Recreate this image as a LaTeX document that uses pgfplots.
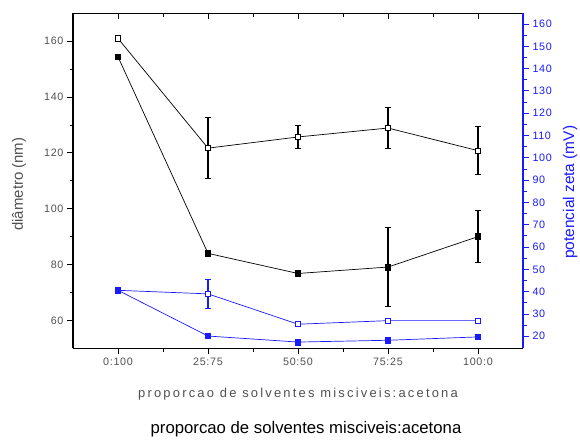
\documentclass[border=0pt]{standalone}
\usepackage{fontspec}
\setmainfont{Liberation Sans}
\usepackage{pgfplots}
\pgfplotsset{compat=1.18}
\definecolor{tickgray}{HTML}{505050}
\definecolor{zblue}{HTML}{1A1AFF}
\begin{document}
\begin{tikzpicture}
\useasboundingbox (0,0) rectangle (580bp,441bp);
\pgfplotsset{
  common/.style={
    at={(73bp,92.7bp)}, anchor=south west,
    scale only axis, width=450bp, height=335bp,
    xmin=-0.5, xmax=4.5,
    /pgf/number format/assume math mode=true,
    tick label style={font=\fontsize{10.8}{12}\selectfont\addfontfeature{LetterSpace=6}},
    major tick length=6bp, minor tick length=3.5bp,
    axis line style={line width=1.1pt},
    every tick/.style={line width=0.9pt},
  }
}
% left axis (black series)
\begin{axis}[common,
  ymin=50, ymax=170,
  axis x line*=bottom, axis y line*=left,
  xtick={0,...,4}, xticklabels={0:100,25:75,50:50,75:25,100:0},
  minor x tick num=1,
  ytick={60,80,...,160}, minor y tick num=1,
  tick align=outside,
  ticklabel style={text=tickgray},
  xlabel={\fontsize{13}{15}\selectfont\addfontfeature{LetterSpace=17}proporcao de solventes misciveis:acetona},
  xlabel style={text=tickgray, yshift=-16bp},
  ylabel={diâmetro (nm)},
  every axis y label/.style={at={(axis description cs:-0.12,0.49)}, rotate=90, anchor=center},
  ylabel style={font=\fontsize{15}{17}\selectfont, text=tickgray},
]
\addplot[black, line width=0.7pt, mark=square*, mark size=2.6bp,
  mark options={fill=white, solid, line width=1pt},
  error bars/.cd, y dir=both, y explicit,
  error bar style={line width=1.1pt},
  error mark options={rotate=90, mark size=3bp, line width=1.1pt}]
  coordinates {(0,161.0) +- (0,0) (1,121.7) +- (0,11.0) (2,125.7) +- (0,4.1) (3,128.9) +- (0,7.4) (4,120.8) +- (0,8.7)};
\addplot[black, line width=0.7pt, mark=square*, mark size=2.8bp,
  mark options={fill=black, solid},
  error bars/.cd, y dir=both, y explicit,
  error bar style={line width=1.1pt},
  error mark options={rotate=90, mark size=3bp, line width=1.1pt}]
  coordinates {(0,154.4) +- (0,0) (1,84.0) +- (0,0) (2,76.8) +- (0,0) (3,79.1) +- (0,14.2) (4,90.0) +- (0,9.3)};
\end{axis}
% top axis with inward ticks
\begin{axis}[common,
  ymin=50, ymax=170,
  axis x line*=top, axis y line=none,
  xtick={0,...,4}, xticklabels={}, minor x tick num=1,
  tick align=inside,
]
\end{axis}
% right axis (blue series)
\begin{axis}[common,
  ymin=14.6, ymax=164.8,
  axis x line=none, axis y line*=right,
  ytick={20,30,...,160}, minor y tick num=1,
  tick align=outside,
  y axis line style={zblue},
  every y tick/.style={zblue, line width=0.9pt},
  ticklabel style={text=zblue},
  ylabel={potencial zeta (mV)},
  every axis y label/.style={at={(axis description cs:1.105,0.466)}, rotate=90, anchor=center},
  ylabel style={font=\fontsize{15.5}{17}\selectfont, text=zblue},
]
\addplot[zblue, line width=0.7pt, mark=square*, mark size=2.6bp,
  mark options={fill=white, solid, line width=1pt},
  error bars/.cd, y dir=both, y explicit,
  error bar style={line width=1.1pt},
  error mark options={rotate=90, mark size=3bp, line width=1.1pt}]
  coordinates {(0,40.6) +- (0,0) (1,39.0) +- (0,6.4) (2,25.4) +- (0,0) (3,27.0) +- (0,0) (4,27.0) +- (0,0)};
\addplot[zblue, line width=0.7pt, mark=square*, mark size=2.8bp,
  mark options={fill=zblue, solid}]
  coordinates {(0,40.6) (1,20.1) (2,17.4) (3,18.2) (4,19.7)};
\end{axis}
\node[font=\fontsize{16.8}{18}\selectfont, anchor=center] at (306bp,12bp) {proporcao de solventes misciveis:acetona};
\end{tikzpicture}
\end{document}
